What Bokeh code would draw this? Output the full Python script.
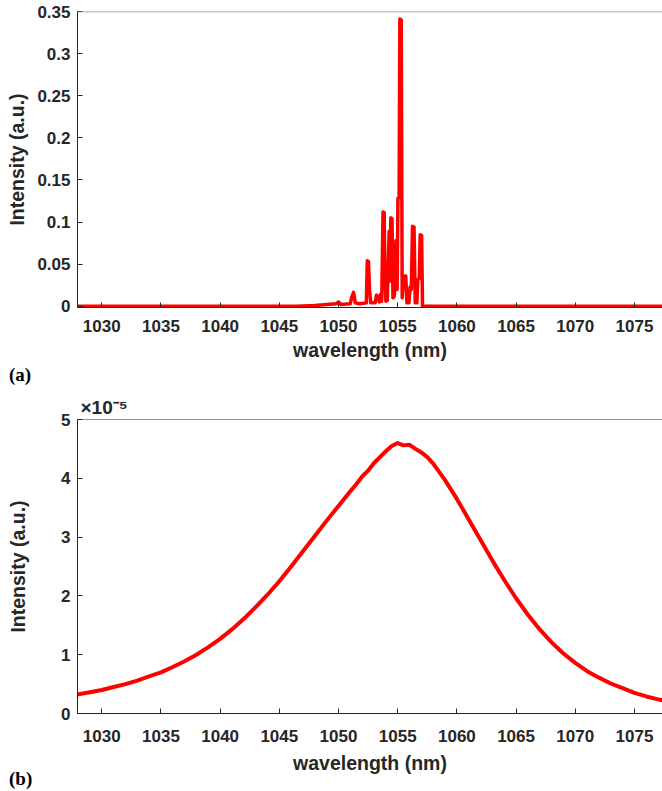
from bokeh.plotting import figure
from bokeh.layouts import column
from bokeh.models import Range1d, FixedTicker, Span, Title
from bokeh.embed import file_html
from bokeh.resources import INLINE

# ---------------- data ----------------
# panel (a): multi-line laser spectrum
wl_a = [1027.5, 1046.5, 1048.0, 1049.0, 1049.8, 1050.0, 1050.2, 1051.0, 1051.1, 1051.27,
        1051.42, 1051.8, 1052.35, 1052.43, 1052.53, 1052.62, 1052.72, 1053.1, 1053.2, 1053.3,
        1053.45, 1053.55, 1053.65, 1053.76, 1053.86, 1053.92, 1054.0, 1054.12, 1054.28, 1054.36,
        1054.42, 1054.52, 1054.6, 1054.72, 1054.85, 1054.95, 1055.02, 1055.12, 1055.18, 1055.3,
        1055.38, 1055.5, 1055.68, 1055.78, 1055.95, 1056.05, 1056.15, 1056.25, 1056.38, 1056.48,
        1056.62, 1056.7, 1056.82, 1056.9, 1057.02, 1057.1, 1078.0]
int_a = [0.0, 0.0, 0.001, 0.002, 0.003, 0.005, 0.002, 0.003, 0.010, 0.0165,
         0.004, 0.003, 0.004, 0.054, 0.053, 0.020, 0.004, 0.004, 0.013, 0.012,
         0.005, 0.014, 0.006, 0.112, 0.111, 0.037, 0.006, 0.007, 0.089, 0.030,
         0.105, 0.104, 0.010, 0.012, 0.078, 0.020, 0.128, 0.129, 0.341, 0.340,
         0.010, 0.036, 0.036, 0.004, 0.004, 0.023, 0.020, 0.095, 0.094, 0.004,
         0.004, 0.032, 0.033, 0.085, 0.084, 0.0, 0.0]

# panel (b): broad spontaneous-emission spectrum, values in units of 1e-5
wl_b = [1027.5, 1029, 1030, 1031, 1032, 1033, 1034, 1035, 1036, 1037, 1038, 1039, 1040,
        1041, 1042, 1043, 1044, 1045, 1046, 1047, 1048, 1049, 1050, 1051, 1051.5, 1052,
        1052.5, 1053, 1053.5, 1054, 1054.5, 1055, 1055.5, 1056, 1056.5, 1057, 1057.5, 1058,
        1059, 1060, 1061, 1062, 1063, 1064, 1065, 1066, 1067, 1068, 1069, 1070, 1071,
        1072, 1073, 1074, 1075, 1076, 1077, 1078]
int_b_e5 = [0.31, 0.36, 0.40, 0.45, 0.50, 0.56, 0.63, 0.70, 0.79, 0.89, 1.00, 1.13, 1.27,
            1.43, 1.61, 1.81, 2.02, 2.25, 2.50, 2.76, 3.02, 3.28, 3.53, 3.78, 3.90, 4.03,
            4.13, 4.26, 4.36, 4.46, 4.55, 4.60, 4.56, 4.57, 4.50, 4.44, 4.36, 4.25,
            3.97, 3.65, 3.30, 2.95, 2.60, 2.27, 1.96, 1.68, 1.43, 1.21, 1.02, 0.86, 0.72,
            0.61, 0.51, 0.43, 0.35, 0.29, 0.24, 0.20]
int_b = [v * 1e-5 for v in int_b_e5]

x_ticks = [1030, 1035, 1040, 1045, 1050, 1055, 1060, 1065, 1070, 1075]
x_tick_labels = ["1030", "1035", "1040", "1045", "1050", "1055", "1060", "1065", "1070", "1075"]
y_ticks_a = [0, 0.05, 0.1, 0.15, 0.2, 0.25, 0.3, 0.35]
y_tick_labels_a = ["0", "0.05", "0.1", "0.15", "0.2", "0.25", "0.3", "0.35"]
y_ticks_b = [0, 1e-5, 2e-5, 3e-5, 4e-5, 5e-5]
y_tick_labels_b = ["0", "1", "2", "3", "4", "5"]

X_START, X_END = 1027.95, 1077.37
FONT = "Liberation Sans"
SERIF = "Liberation Serif"
TXT = "#262626"
RED = "#ff0000"


def style(p, y_ticks, y_labels, y_label_standoff, x_label_standoff, tick_standoff):
    p.outline_line_color = None
    p.xgrid.visible = False
    p.ygrid.visible = False
    p.background_fill_color = "white"
    p.border_fill_color = "white"
    p.xaxis.ticker = FixedTicker(ticks=x_ticks)
    p.xaxis.major_label_overrides = dict(zip(x_ticks, x_tick_labels))
    p.yaxis.ticker = FixedTicker(ticks=y_ticks)
    p.yaxis.major_label_overrides = dict(zip(y_ticks, y_labels))
    for ax in (p.xaxis[0], p.yaxis[0]):
        ax.axis_line_color = TXT
        ax.axis_line_width = 1
        ax.major_tick_in = 5
        ax.major_tick_out = 0
        ax.major_tick_line_color = TXT
        ax.minor_tick_line_color = None
        ax.major_label_text_font = FONT
        ax.major_label_text_font_style = "bold"
        ax.major_label_text_font_size = "17px"
        ax.major_label_text_color = TXT
        ax.axis_label_text_font = FONT
        ax.axis_label_text_font_style = "bold"
        ax.axis_label_text_font_size = "19.5px"
        ax.axis_label_text_color = TXT
    p.xaxis.axis_label = "wavelength (nm)"
    p.yaxis.axis_label = "Intensity (a.u.)"
    p.xaxis.major_label_standoff = tick_standoff
    p.yaxis.major_label_standoff = 7
    p.xaxis.axis_label_standoff = x_label_standoff
    p.yaxis.axis_label_standoff = y_label_standoff


def panel_title(t, font, size, standoff, offset):
    t.align = "left"
    t.offset = offset
    t.standoff = standoff
    t.text_font = font
    t.text_font_style = "bold"
    t.text_font_size = size
    t.text_color = "black" if font == SERIF else TXT


# ---------------- panel (a) ----------------
pa = figure(width=662, height=390, output_backend="svg", toolbar_location=None,
            title="(a)", title_location="below",
            x_range=Range1d(X_START, X_END), y_range=Range1d(-0.0015, 0.35),
            min_border_left=77, min_border_right=0, min_border_top=11, min_border_bottom=83)
pa.line(wl_a, int_a, line_color=RED, line_width=3.5, line_join="round")
style(pa, y_ticks_a, y_tick_labels_a, y_label_standoff=6, x_label_standoff=4, tick_standoff=12)
panel_title(pa.title, SERIF, "19px", -3, -68.5)
pa.add_layout(Span(location=0.35, dimension="width", line_color="#8c8c8c", line_width=1.5))

# ---------------- panel (b) ----------------
pb = figure(width=662, height=399, output_backend="svg", toolbar_location=None,
            title="×10⁻⁵", title_location="above",
            x_range=Range1d(X_START, X_END), y_range=Range1d(0, 5e-5),
            min_border_left=77, min_border_right=0, min_border_top=29, min_border_bottom=76)
pb.line(wl_b, int_b, line_color=RED, line_width=4, line_join="round")
style(pb, y_ticks_b, y_tick_labels_b, y_label_standoff=29, x_label_standoff=7, tick_standoff=16)
panel_title(pb.title, FONT, "19px", 3, 3)
pb.add_layout(Span(location=5e-5, dimension="width", line_color=TXT, line_width=1))
tb = Title(text="(b)")
panel_title(tb, SERIF, "19px", -21, -68.5)
pb.add_layout(tb, "below")

layout = column(pa, pb, spacing=0)
open("out.html", "w").write(file_html(layout, INLINE))
